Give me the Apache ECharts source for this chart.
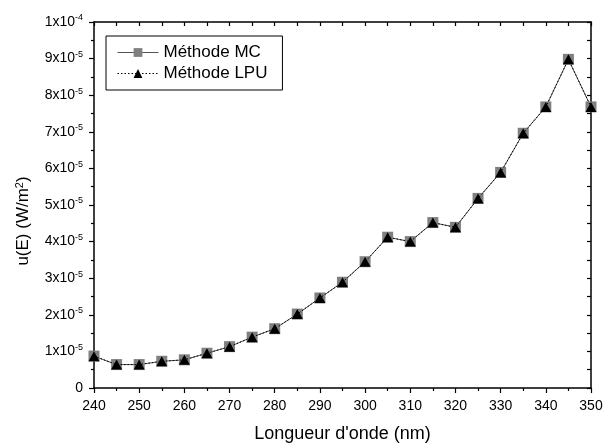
<!DOCTYPE html>
<html><head><meta charset="utf-8">
<script src="https://cdn.jsdelivr.net/npm/echarts@6/dist/echarts.min.js"></script>
<style>html,body{margin:0;padding:0;background:#fff}#c{width:603px;height:443px}</style>
</head><body><div id="c"></div>
<script>
const wavelengths = [240,245,250,255,260,265,270,275,280,285,290,295,300,305,310,315,320,325,330,335,340,345,350];
const mcValues = [0.87,0.64,0.64,0.73,0.77,0.95,1.13,1.39,1.62,2.02,2.46,2.89,3.45,4.12,4.00,4.52,4.39,5.18,5.89,6.96,7.68,8.98,7.68].map(v=>v*1e-5);
const lpuValues = [0.87,0.64,0.64,0.73,0.77,0.95,1.13,1.39,1.62,2.02,2.46,2.89,3.45,4.12,4.00,4.52,4.39,5.18,5.89,6.96,7.68,8.98,7.68].map(v=>v*1e-5);
const seriesNames = ['Méthode MC','Méthode LPU'];
const xTitle = "Longueur d'onde (nm)";
const FONT = 'Liberation Sans';

function yLabel(v){
  const m = Math.round(v/1e-5);
  if (m === 0) return '0';
  if (m === 10) return '1x10{sup|-4}';
  return m + 'x10{sup|-5}';
}
const chart = echarts.init(document.getElementById('c'), null, {renderer:'canvas'});
chart.setOption({
  animation:false,
  backgroundColor:'#fff',
  textStyle:{fontFamily:FONT},
  grid:{left:94,right:12,top:22,bottom:55,containLabel:false,outerBoundsMode:'none'},
  legend:{
    left:106, top:36, orient:'vertical', itemGap:4,
    borderColor:'#000', borderWidth:1, padding:[8,15,8,11],
    itemWidth:41, itemHeight:11,
    lineStyle:{width:1},
    textStyle:{fontFamily:FONT,fontSize:17,color:'#000'},
    data:seriesNames
  },
  xAxis:[{
    type:'value', min:240, max:350, interval:10,
    name:xTitle, nameLocation:'middle', nameGap:37,
    nameTextStyle:{fontFamily:FONT,fontSize:18,color:'#000'},
    axisLine:{show:true,onZero:false,lineStyle:{color:'#000',width:1.5}},
    axisTick:{show:true,length:5,lineStyle:{color:'#000',width:1.2}},
    minorTick:{show:true,splitNumber:2,length:3,lineStyle:{color:'#000',width:1.2}},
    axisLabel:{fontFamily:FONT,fontSize:14,color:'#000',margin:11},
    splitLine:{show:false}
  },{
    type:'value', position:'top', min:240, max:350, interval:5,
    axisLine:{show:true,onZero:false,lineStyle:{color:'#000',width:1.5}},
    axisTick:{show:true,inside:true,length:4,lineStyle:{color:'#000',width:1.2}},
    axisLabel:{show:false}, splitLine:{show:false}
  }],
  yAxis:[{
    type:'value', min:0, max:1e-4, interval:1e-5,
    name:'u(E) (W/m{sup|2})', nameLocation:'middle', nameGap:62,
    nameTextStyle:{fontFamily:FONT,fontSize:17,color:'#000',padding:[0,32,0,0],
      rich:{sup:{fontFamily:FONT,fontSize:11,verticalAlign:'top',padding:[0,0,7,0],color:'#000'}}},
    axisLine:{show:true,onZero:false,lineStyle:{color:'#000',width:1.5}},
    axisTick:{show:true,length:5,lineStyle:{color:'#000',width:1.2}},
    minorTick:{show:true,splitNumber:2,length:3,lineStyle:{color:'#000',width:1.2}},
    axisLabel:{fontFamily:FONT,fontSize:14,color:'#000',margin:11,formatter:yLabel,
      rich:{sup:{fontFamily:FONT,fontSize:9,verticalAlign:'top',padding:[0,0,8,0],color:'#000'}}},
    splitLine:{show:false}
  },{
    type:'value', position:'right', min:0, max:1e-4, interval:5e-6,
    axisLine:{show:true,onZero:false,lineStyle:{color:'#000',width:1.5}},
    axisTick:{show:true,inside:true,length:4,lineStyle:{color:'#000',width:1.2}},
    axisLabel:{show:false}, splitLine:{show:false}
  }],
  series:[{
    name:seriesNames[0], type:'line',
    data:wavelengths.map((x,i)=>[x,mcValues[i]]),
    symbol:'rect', symbolSize:11,
    itemStyle:{color:'#808080'},
    lineStyle:{color:'#555',width:1,type:'solid'},
    clip:false, z:2
  },{
    name:seriesNames[1], type:'line',
    data:wavelengths.map((x,i)=>[x,lpuValues[i]]),
    symbol:'triangle', symbolSize:[11,10],
    itemStyle:{color:'#000'},
    lineStyle:{color:'#000',width:1,type:[1.5,2]},
    clip:false, z:3
  }]
});
</script></body></html>
